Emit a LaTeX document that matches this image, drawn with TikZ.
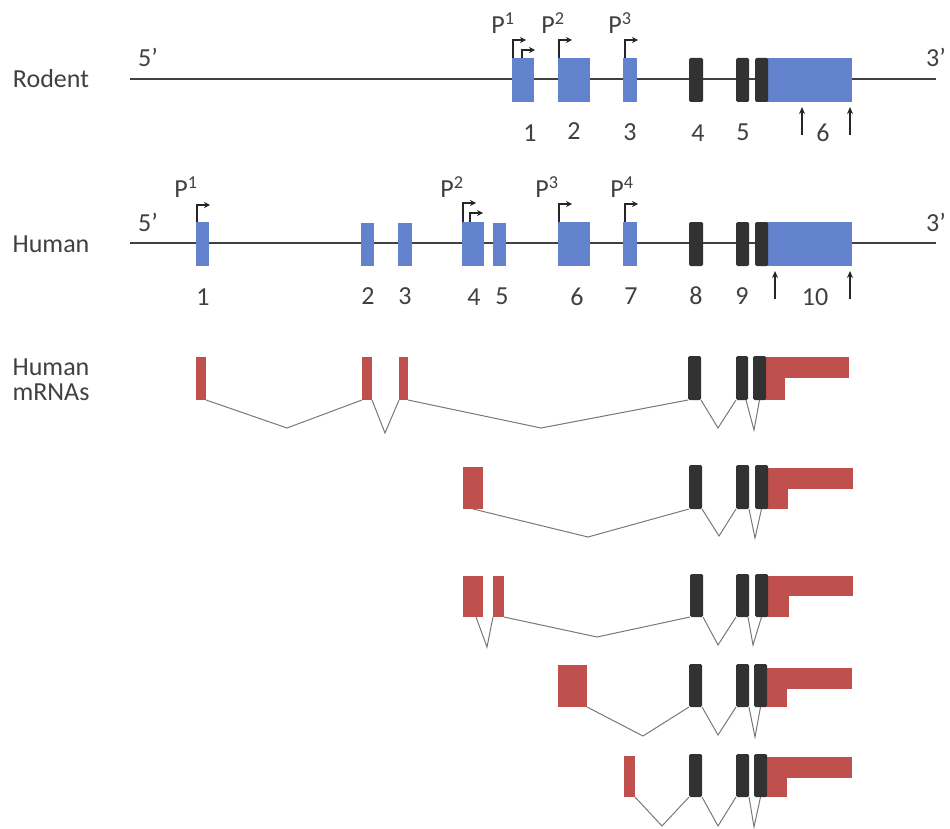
\documentclass[tikz,border=0pt]{standalone}
\usepackage{fontspec}
\setmainfont{Carlito}
\usetikzlibrary{arrows.meta}
\definecolor{exblue}{RGB}{99,130,206}
\definecolor{exred}{RGB}{192,80,77}
\definecolor{exdark}{RGB}{50,50,50}
\definecolor{txt}{RGB}{64,64,64}
\definecolor{spl}{RGB}{120,120,120}
\newcommand\exn[6]{\node[#1, minimum width={(#5)-(#3)}, minimum height={(#6)-(#4)}] (#2) at ({((#3)+(#5))/2},{((#4)+(#6))/2}) {};}
\tikzset{
  exbase/.style={draw=none, inner sep=0pt, outer sep=0pt, rectangle},
  bexon/.style={exbase, fill=exblue},
  rexon/.style={exbase, fill=exred},
  dexon/.style={exbase, fill=exdark, rounded corners=1.5pt},
  gene/.style={draw=txt, line width=1.2pt},
  splice/.style={draw=spl, line width=1pt},
  prom/.style={draw=black!85, line width=1.4pt, -{Stealth[length=6pt,width=6pt]}},
  uarr/.style={draw=black!85, line width=1.4pt, -{Stealth[length=7pt,width=6pt]}},
  lbl/.style={text=txt, font=\fontsize{26}{29}\selectfont, inner sep=0pt},
  side/.style={text=txt, font=\fontsize{26}{25}\selectfont, inner sep=0pt, align=center},
}
\begin{document}
\begin{tikzpicture}[x=1pt,y=-1pt]
\useasboundingbox (0,0) rectangle (950,829);
% ---------------- Rodent ----------------
\node[side] (rodent) at (51,79) {Rodent};
\coordinate (rl) at (130,79);
\coordinate (rr) at (936,79);
\draw[gene] (rl) -- (rr);
\node[lbl] (r5) at (148,57) {5’};
\node[lbl] (r3) at (936,57) {3’};
\exn{bexon}{r1}{512}{58}{534}{102}
\exn{bexon}{r2}{558}{58}{590}{102}
\exn{bexon}{r3x}{623}{58}{637}{102}
\exn{dexon}{r4}{689}{58}{703}{102}
\exn{bexon}{r6b}{762}{58}{852}{102}
\exn{dexon}{r5x}{736}{58}{749}{102}
\exn{dexon}{r6d}{755}{58}{768}{102}
\node[lbl] (rl1) at (530,133) {1};
\node[lbl] (rl2) at (574,131) {2};
\node[lbl] (rl3) at (630,132) {3};
\node[lbl] (rl4) at (698,133) {4};
\node[lbl] (rl5) at (743,132) {5};
\node[lbl] (rl6) at (823,133) {6};
\draw[prom] ([xshift=1pt]r1.north west) |- ++(13,-18);
\draw[prom] ([xshift=10pt]r1.north west) |- ++(13,-8);
\draw[prom] ([xshift=1pt]r2.north west) |- ++(13,-18);
\draw[prom] ([xshift=2pt]r3x.north west) |- ++(13,-18);
\node[lbl] (rp1) at (503,23) {P\textsuperscript{1}};
\node[lbl] (rp2) at (553,23) {P\textsuperscript{2}};
\node[lbl] (rp3) at (620,23) {P\textsuperscript{3}};
\coordinate (ra1) at (802,135);
\coordinate (ra2) at (850,135);
\draw[uarr] (ra1) -- ++(0,-28);
\draw[uarr] (ra2) -- ++(0,-28);
% ---------------- Human ----------------
\node[side] (human) at (51,244) {Human};
\coordinate (hl) at (130,243);
\coordinate (hr) at (936,243);
\draw[gene] (hl) -- (hr);
\node[lbl] (h5) at (148,222) {5’};
\node[lbl] (h3) at (936,222) {3’};
\exn{bexon}{h1}{196}{222}{209}{266}
\exn{bexon}{h2}{361}{223}{374}{266}
\exn{bexon}{h3x}{398}{223}{412}{266}
\exn{bexon}{h4}{462}{222}{484}{266}
\exn{bexon}{h5x}{493}{223}{506}{266}
\exn{bexon}{h6}{558}{222}{590}{266}
\exn{bexon}{h7}{623}{222}{637}{266}
\exn{dexon}{h8}{689}{222}{703}{266}
\exn{bexon}{h10b}{762}{222}{852}{266}
\exn{dexon}{h9}{736}{222}{749}{266}
\exn{dexon}{h10d}{755}{222}{768}{266}
\node[lbl] (hl1) at (203,297) {1};
\node[lbl] (hl2) at (368,296) {2};
\node[lbl] (hl3) at (405,296) {3};
\node[lbl] (hl4) at (474,297) {4};
\node[lbl] (hl5) at (502,296) {5};
\node[lbl] (hl6) at (577,297) {6};
\node[lbl] (hl7) at (631,296) {7};
\node[lbl] (hl8) at (696,296) {8};
\node[lbl] (hl9) at (742,296) {9};
\node[lbl] (hl10) at (815,297) {10};
\draw[prom] ([xshift=1pt]h1.north west) |- ++(13,-17);
\draw[prom] ([xshift=1pt]h4.north west) |- ++(13,-19);
\draw[prom] ([xshift=8pt]h4.north west) |- ++(13,-9);
\draw[prom] ([xshift=1pt]h6.north west) |- ++(13,-18);
\draw[prom] ([xshift=2pt]h7.north west) |- ++(13,-18);
\node[lbl] (hp1) at (186,187) {P\textsuperscript{1}};
\node[lbl] (hp2) at (452,187) {P\textsuperscript{2}};
\node[lbl] (hp3) at (547,187) {P\textsuperscript{3}};
\node[lbl] (hp4) at (622,187) {P\textsuperscript{4}};
\coordinate (ha1) at (775,299);
\coordinate (ha2) at (850,299);
\draw[uarr] (ha1) -- ++(0,-28);
\draw[uarr] (ha2) -- ++(0,-28);
% ---------------- mRNAs ----------------
\node[side] (mrna) at (51,380) {Human\\mRNAs};
% row 1
\exn{rexon}{a1}{196}{357}{206}{400}
\exn{rexon}{a2}{362}{357}{372}{400}
\exn{rexon}{a3}{399}{357}{408}{400}
\exn{rexon}{aTu}{762}{357}{849}{378}
\exn{rexon}{aTl}{762}{377}{785}{400}
\exn{dexon}{a8}{688}{356}{701}{400}
\exn{dexon}{a9}{736}{356}{748}{400}
\exn{dexon}{a10}{753}{356}{766}{400}
\coordinate (av1) at (287,428);
\coordinate (av2) at (385,433);
\coordinate (av3) at (541,428);
\coordinate (av4) at (718,428);
\coordinate (av5) at (754,430);
\draw[splice] (a1.south east) -- (av1) -- (a2.south west);
\draw[splice] (a2.south east) -- (av2) -- (a3.south west);
\draw[splice] (a3.south east) -- (av3) -- (a8.south west);
\draw[splice] (a8.south east) -- (av4) -- (a9.south west);
\draw[splice] ([xshift=-2pt]a9.south east) -- (av5) -- (a10.south);
% row 2
\exn{rexon}{b4}{463}{467}{483}{509}
\exn{rexon}{bTu}{764}{468}{853}{489}
\exn{rexon}{bTl}{764}{488}{788}{509}
\exn{dexon}{b8}{689}{465}{702}{509}
\exn{dexon}{b9}{736}{465}{749}{509}
\exn{dexon}{b10}{755}{465}{768}{509}
\coordinate (bv1) at (588,537);
\coordinate (bv2) at (719,536);
\coordinate (bv3) at (755,538);
\draw[splice] (b4.south) -- (bv1) -- (b8.south west);
\draw[splice] (b8.south east) -- (bv2) -- (b9.south west);
\draw[splice] (b9.south east) -- (bv3) -- (b10.south);
% row 3
\exn{rexon}{c4}{463}{576}{483}{617}
\exn{rexon}{c5}{493}{576}{504}{617}
\exn{rexon}{cTu}{764}{576}{853}{596}
\exn{rexon}{cTl}{764}{595}{789}{617}
\exn{dexon}{c8}{690}{574}{703}{617}
\exn{dexon}{c9}{736}{574}{749}{617}
\exn{dexon}{c10}{755}{574}{768}{617}
\coordinate (cv1) at (487,647);
\coordinate (cv2) at (597,637);
\coordinate (cv3) at (718,645);
\coordinate (cv4) at (753,645);
\draw[splice] ([xshift=-7pt]c4.south east) -- (cv1) -- (c5.south west);
\draw[splice] (c5.south east) -- (cv2) -- (c8.south west);
\draw[splice] (c8.south east) -- (cv3) -- (c9.south west);
\draw[splice] ([xshift=-1pt]c9.south east) -- (cv4) -- (c10.south);
% row 4
\exn{rexon}{d6}{558}{665}{587}{707}
\exn{rexon}{dTu}{763}{668}{852}{689}
\exn{rexon}{dTl}{763}{688}{787}{707}
\exn{dexon}{d8}{689}{664}{702}{707}
\exn{dexon}{d9}{736}{664}{749}{707}
\exn{dexon}{d10}{754}{664}{767}{707}
\coordinate (dv1) at (643,736);
\coordinate (dv2) at (718,735);
\coordinate (dv3) at (755,737);
\draw[splice] (d6.south east) -- (dv1) -- (d8.south west);
\draw[splice] (d8.south east) -- (dv2) -- (d9.south west);
\draw[splice] (d9.south east) -- (dv3) -- (d10.south);
% row 5
\exn{rexon}{e7}{624}{756}{635}{797}
\exn{rexon}{eTu}{763}{757}{852}{778}
\exn{rexon}{eTl}{763}{777}{787}{797}
\exn{dexon}{e8}{689}{754}{702}{797}
\exn{dexon}{e9}{736}{754}{749}{797}
\exn{dexon}{e10}{754}{754}{767}{797}
\coordinate (ev1) at (662,826);
\coordinate (ev2) at (718,826);
\coordinate (ev3) at (754,827);
\draw[splice] (e7.south east) -- (ev1) -- (e8.south west);
\draw[splice] (e8.south east) -- (ev2) -- (e9.south west);
\draw[splice] (e9.south east) -- (ev3) -- (e10.south);
\end{tikzpicture}
\end{document}
